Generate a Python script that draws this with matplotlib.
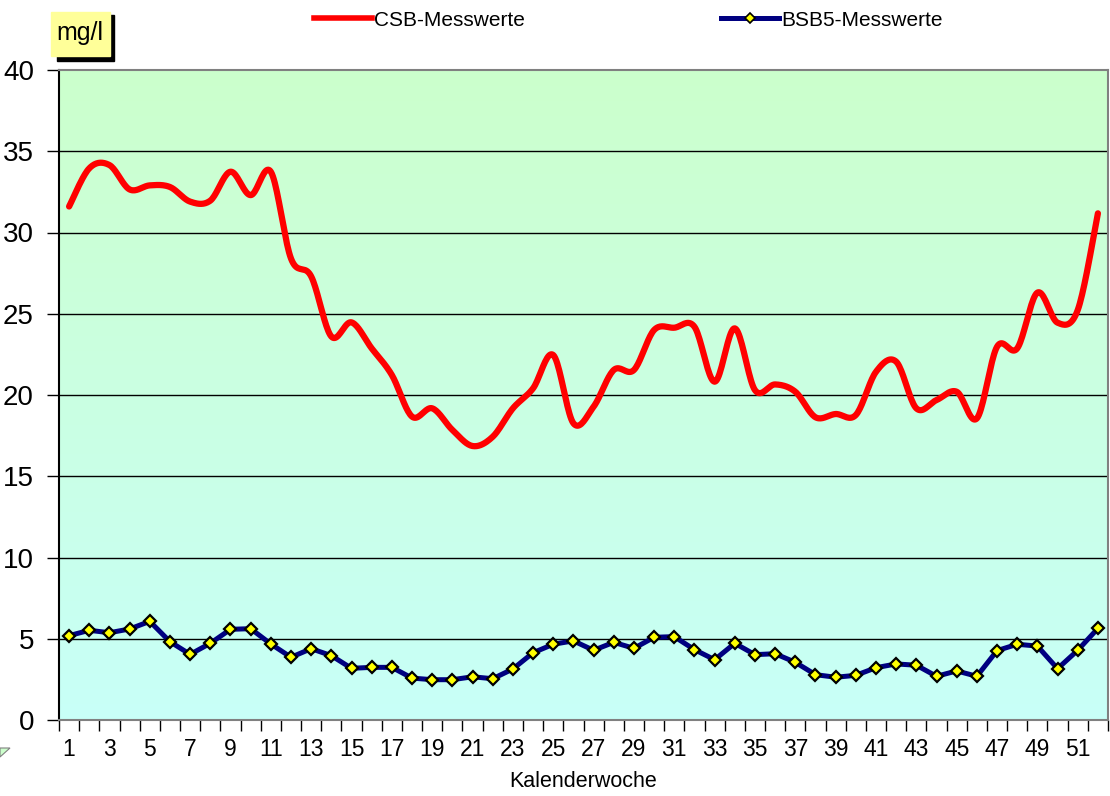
import numpy as np
import matplotlib
matplotlib.use("Agg")
import matplotlib.pyplot as plt
from matplotlib.lines import Line2D
from matplotlib.patches import Rectangle, Polygon
from matplotlib.colors import LinearSegmentedColormap

weeks = list(range(1, 53))
csb = [31.6, 33.95, 34.15, 32.65, 32.9, 32.8, 31.9, 31.96, 33.74, 32.3,
       33.74, 28.4, 27.3, 23.6, 24.47, 22.87, 21.23, 18.67, 19.18, 17.85,
       16.86, 17.43, 19.18, 20.41, 22.46, 18.26, 19.28, 21.54, 21.54, 24.0,
       24.14, 24.2, 20.82, 24.1, 20.3, 20.65, 20.2, 18.63, 18.83, 18.77,
       21.43, 22.05, 19.18, 19.69, 20.2, 18.56, 22.97, 22.87, 26.3, 24.45,
       25.23, 31.18]
bsb5 = [5.19, 5.52, 5.37, 5.6, 6.07, 4.82, 4.04, 4.72, 5.58, 5.62,
        4.68, 3.86, 4.39, 3.96, 3.18, 3.24, 3.24, 2.58, 2.48, 2.48,
        2.66, 2.54, 3.14, 4.14, 4.66, 4.87, 4.29, 4.78, 4.41, 5.09,
        5.13, 4.33, 3.71, 4.72, 4.02, 4.08, 3.55, 2.79, 2.63, 2.75,
        3.22, 3.45, 3.37, 2.69, 3.02, 2.69, 4.27, 4.66, 4.55, 3.16,
        4.29, 5.64]
yticks = list(range(0, 45, 5))
xtick_labels = [str(w) for w in weeks if w % 2 == 1]
xlabel = "Kalenderwoche"
ylabel = "mg/l"
names = ["CSB-Messwerte", "BSB5-Messwerte"]


def catmull_rom(x, y, n=20):
    x = np.asarray(x, float)
    y = np.asarray(y, float)
    px = np.concatenate([[x[0]], x, [x[-1]]])
    py = np.concatenate([[y[0]], y, [y[-1]]])
    xs, ys = [], []
    t = np.linspace(0, 1, n, endpoint=False)
    for i in range(1, len(px) - 2):
        p0x, p1x, p2x, p3x = px[i - 1], px[i], px[i + 1], px[i + 2]
        p0y, p1y, p2y, p3y = py[i - 1], py[i], py[i + 1], py[i + 2]
        c1x = p1x + (p2x - p0x) / 6
        c1y = p1y + (p2y - p0y) / 6
        c2x = p2x - (p3x - p1x) / 6
        c2y = p2y - (p3y - p1y) / 6
        b0 = (1 - t) ** 3
        b1 = 3 * (1 - t) ** 2 * t
        b2 = 3 * (1 - t) * t ** 2
        b3 = t ** 3
        xs.append(b0 * p1x + b1 * c1x + b2 * c2x + b3 * p2x)
        ys.append(b0 * p1y + b1 * c1y + b2 * c2y + b3 * p2y)
    xs.append([x[-1]])
    ys.append([y[-1]])
    return np.concatenate(xs), np.concatenate(ys)


plt.rcParams['font.family'] = ['Liberation Sans', 'DejaVu Sans']

fig = plt.figure(figsize=(11.10, 7.96), dpi=100)
ax = fig.add_axes([59 / 1110, 1 - 720 / 796, (1108 - 59) / 1110, (720 - 70) / 796])

# gradient background
cmap = LinearSegmentedColormap.from_list("bg", ["#CCFFCC", "#C8FFF8"])
grad = np.linspace(0, 1, 256).reshape(-1, 1)
ax.imshow(grad, aspect="auto", cmap=cmap, extent=[0, 1, 0, 1],
          transform=ax.transAxes, zorder=0)

ax.set_xlim(0.5, 52.5)
ax.set_ylim(0, 40)
ax.set_yticks(yticks)
ax.tick_params(axis='y', labelsize=20, length=9, width=1, direction='out', pad=9)
for y in yticks[1:-1]:
    ax.axhline(y, color='black', lw=1, zorder=1)

# x ticks: marks at category boundaries, labels at odd centers
ax.set_xticks(np.arange(0.5, 53.5, 1.0))
ax.set_xticklabels([])
ax.set_xticks([w for w in weeks if w % 2 == 1], minor=True)
ax.set_xticklabels(xtick_labels, minor=True)
ax.tick_params(axis='x', which='major', length=8, width=1, direction='out')
ax.tick_params(axis='x', which='minor', length=0, labelsize=16.5, pad=13)
ax.set_xlabel(xlabel, fontsize=15.5, labelpad=7)

for s in ['top', 'right']:
    ax.spines[s].set_color('#808080')
    ax.spines[s].set_linewidth(1.5)
ax.spines['left'].set_linewidth(1.5)
ax.spines['bottom'].set_color('#808080')
ax.spines['bottom'].set_linewidth(1.5)

sx, sy = catmull_rom(weeks, csb)
ax.plot(sx, sy, color='#FF0000', lw=4.5, solid_capstyle='round', zorder=3)
ax.plot(weeks, bsb5, color='#000080', lw=3.6, marker='D', markersize=6,
        markerfacecolor='#FFFF00', markeredgecolor='black', markeredgewidth=1.6,
        zorder=4)

# legend
handles = [Line2D([], [], color='#FF0000', lw=4),
           Line2D([], [], color='#000080', lw=3.6, marker='D', markersize=5,
                  markerfacecolor='#FFFF00', markeredgecolor='black', markeredgewidth=1.2)]
fig.legend(handles, names, loc='upper center', bbox_to_anchor=(0.566, 1.010),
           ncol=2, frameon=False, fontsize=15, handlelength=2.8,
           handletextpad=0.1, columnspacing=9.4)

# mg/l label with shadow
fig.patches.append(Rectangle((57 / 1110, 1 - 61 / 796), 57 / 1110, 46 / 796,
                             transform=fig.transFigure, color='black', zorder=1))
fig.patches.append(Rectangle((51 / 1110, 1 - 56 / 796), 59 / 1110, 44 / 796,
                             transform=fig.transFigure, color='#FFFF99', zorder=2))
fig.text(80 / 1110, 1 - 33 / 796, ylabel, fontsize=18, ha='center', va='center', zorder=3)

# small triangle at bottom-left
fig.patches.append(Polygon([[0, 1 - 748 / 796], [10 / 1110, 1 - 748 / 796], [0, 1 - 757 / 796]],
                           closed=True, transform=fig.transFigure,
                           facecolor='#CCFFCC', edgecolor='#808080', lw=0.8))

fig.savefig("out.png", dpi=100)
